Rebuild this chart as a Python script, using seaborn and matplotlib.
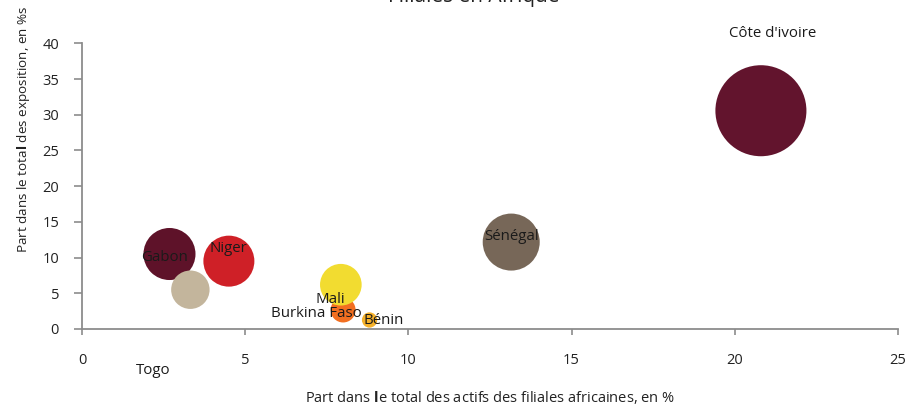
import matplotlib
matplotlib.use("Agg")
import matplotlib.pyplot as plt
import seaborn as sns
import pandas as pd

# ---- data ----
pays = ["Côte d'ivoire", "Sénégal", "Gabon", "Togo", "Niger", "Burkina Faso", "Mali", "Bénin"]
actifs = [20.80, 13.15, 2.68, 3.32, 4.50, 8.00, 7.93, 8.81]       # x, %
exposition = [30.56, 12.17, 10.50, 5.50, 9.50, 2.66, 6.20, 1.26]  # y, %
poids = [30.6, 12.0, 10.0, 5.45, 9.6, 2.3, 6.4, 0.86]             # bubble size
couleurs = ["#62142D", "#776758", "#5E1229", "#C3B59C", "#CF2027", "#F26F21", "#F2DC30", "#F5B12A"]
# label offsets (pixels, up = positive) relative to each bubble
lab_dx = [12, 0, -4.5, -37.5, -1, -27, -11, 14.5]
lab_dy = [77.5, 6, -3.3, -81, 13, -3, -15, 0]
x_ticks = [0, 5, 10, 15, 20, 25]
y_ticks = [0, 5, 10, 15, 20, 25, 30, 35, 40]

df = pd.DataFrame({"pays": pays, "actifs": actifs, "exposition": exposition, "poids": poids})

sns.set_theme(style="white")
plt.rcParams["font.family"] = ["Open Sans", "DejaVu Sans"]
plt.rcParams["mathtext.fontset"] = "custom"
plt.rcParams["mathtext.rm"] = "Open Sans"
plt.rcParams["mathtext.bf"] = "Open Sans:bold"

fig = plt.figure(figsize=(9.17, 4.07), dpi=100)
ax = fig.add_axes([82 / 917, 1 - 329 / 407, (898 - 82) / 917, (329 - 43.3) / 407])

smax = 2.0736 * 67.7 * max(poids)
sns.scatterplot(data=df, x="actifs", y="exposition", hue="pays", palette=couleurs,
                size="poids", sizes=(0, smax), size_norm=(0, max(poids)),
                linewidth=0, alpha=1, legend=False, ax=ax, zorder=2)

for p, xv, yv, dx, dy in zip(pays, actifs, exposition, lab_dx, lab_dy):
    ax.annotate(p, (xv, yv), xytext=(dx, dy), textcoords="offset pixels",
                ha="center", va="center", fontsize=10.8, color="#1a1a1a",
                annotation_clip=False, zorder=5)

ax.set_xlim(0, 25)
ax.set_ylim(0, 40)
ax.set_xticks(x_ticks)
ax.set_yticks(y_ticks)
axis_col = "#8c8c8c"
for s in ["top", "right"]:
    ax.spines[s].set_visible(False)
for s in ["left", "bottom"]:
    ax.spines[s].set_color(axis_col)
    ax.spines[s].set_linewidth(1.3)
ax.tick_params(axis="y", direction="out", length=5.5, width=1.2, color=axis_col,
               pad=11, labelsize=10.5, labelcolor="#222222", left=True)
ax.tick_params(axis="x", direction="out", length=4.3, width=1.2, color=axis_col,
               pad=13, labelsize=10.5, labelcolor="#222222", bottom=True)

ax.set_xlabel(r"Part dans $\mathbf{l}$e total des actifs des filiales africaines, en %",
              fontsize=10.5, color="#222222", labelpad=15)
ax.set_ylabel(r"Part dans le tota$\mathbf{l}$ des exposition, en %s",
              fontsize=9.7, color="#222222")
ax.yaxis.set_label_coords(-0.061, 0.70)

fig.text(560 / 917, 1 - 2 / 407, "Filiales en Afrique", ha="right", va="baseline",
         fontsize=15, color="#222222")

fig.savefig("out.png", dpi=100)
